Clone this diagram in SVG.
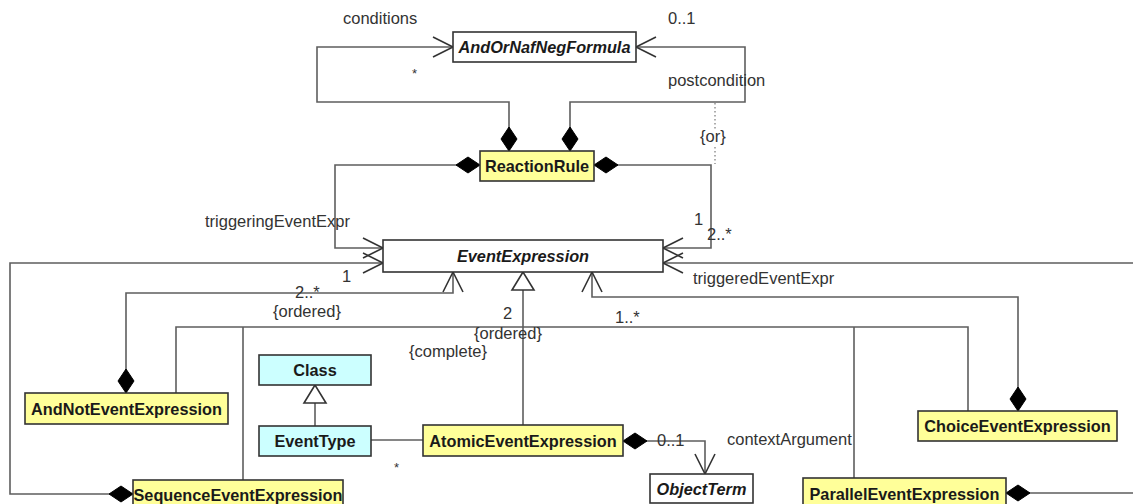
<svg xmlns="http://www.w3.org/2000/svg" width="1133" height="504" viewBox="0 0 1133 504">
  <style>
    .bg { fill: #ffffff; }
    .box { stroke: #333333; stroke-width: 1.6; }
    .abstract { fill: #ffffff; }
    .concrete { fill: #ffff99; }
    .meta { fill: #ccffff; }
    .name { font-family: "Liberation Sans", Arial, sans-serif; font-size: 16.3px; font-weight: bold; fill: #1a1a1a; text-anchor: middle; }
    .italic { font-style: italic; }
    .label { font-family: "Liberation Sans", Arial, sans-serif; font-size: 16.5px; fill: #333333; }
    .conn path, .conn line { fill: none; stroke: #5e5e5e; stroke-width: 1.6; }
    .dotted { stroke-dasharray: 1.5 2.5; stroke: #999999 !important; }
  </style>
  <defs>
    <!-- filled composition diamond, placed at the owner end -->
    <marker id="diamond" markerUnits="userSpaceOnUse" markerWidth="26" markerHeight="18" viewBox="-1 -9 26 18" refX="0" refY="0" orient="auto">
      <path d="M0,0 L12,-8 L24,0 L12,8 Z" fill="#000000" stroke="#000000" stroke-width="1"/>
    </marker>
    <!-- open navigability arrow -->
    <marker id="arrow" markerUnits="userSpaceOnUse" markerWidth="24" markerHeight="24" viewBox="-22 -12 24 24" refX="0" refY="0" orient="auto">
      <path d="M-20,-10 L0,0 L-20,10" fill="none" stroke="#333333" stroke-width="1.6"/>
    </marker>
    <!-- hollow generalization triangle -->
    <marker id="gen" markerUnits="userSpaceOnUse" markerWidth="24" markerHeight="26" viewBox="-20 -13 22 26" refX="0" refY="0" orient="auto">
      <path d="M0,0 L-18,-11 L-18,11 Z" fill="#ffffff" stroke="#333333" stroke-width="1.6"/>
    </marker>
  </defs>

  <rect class="bg" x="0" y="0" width="1133" height="504"/>

  <g id="connectors" class="conn">
    <!-- ReactionRule to AndOrNafNegFormula -->
    <path d="M509,151 V102 H317 V47 H453" marker-start="url(#diamond)" marker-end="url(#arrow)"/>
    <path d="M570,151 V102 H745 V47 H636" marker-start="url(#diamond)" marker-end="url(#arrow)"/>
    <path class="dotted" d="M715,103 V129"/>
    <path class="dotted" d="M715,147 V164"/>
    <!-- ReactionRule to EventExpression -->
    <path d="M480,165 H335 V248 H383" marker-start="url(#diamond)" marker-end="url(#arrow)"/>
    <path d="M594,165 H711 V248 H663" marker-start="url(#diamond)" marker-end="url(#arrow)"/>
    <!-- Sequence and Parallel compositions -->
    <path d="M133,494 H10 V263 H383" marker-start="url(#diamond)" marker-end="url(#arrow)"/>
    <path d="M1006,493 H1145 V263 H663" marker-start="url(#diamond)" marker-end="url(#arrow)"/>
    <!-- AndNot and Choice compositions -->
    <path d="M126,393 V293 H453 V272" marker-start="url(#diamond)" marker-end="url(#arrow)"/>
    <path d="M1018,411 V297 H592 V272" marker-start="url(#diamond)" marker-end="url(#arrow)"/>
    <!-- generalization tree of EventExpression -->
    <path d="M523,425 V272" marker-end="url(#gen)"/>
    <path d="M176,393 V327 H968 V411"/>
    <path d="M243,327 V480"/>
    <path d="M854,327 V478"/>
    <!-- EventType generalizes Class -->
    <path d="M315,426 V385" marker-end="url(#gen)"/>
    <!-- EventType to AtomicEventExpression -->
    <path d="M371,440 H423"/>
    <!-- AtomicEventExpression to ObjectTerm -->
    <path d="M623,441 H705 V474" marker-start="url(#diamond)" marker-end="url(#arrow)"/>
  </g>

  <g id="andOrNafNegFormula">
    <rect class="box abstract" x="453" y="32" width="183" height="30"/>
    <text class="name italic" x="544.5" y="53">AndOrNafNegFormula</text>
  </g>
  <g id="reactionRule">
    <rect class="box concrete" x="480" y="151" width="114" height="30"/>
    <text class="name" x="537" y="172">ReactionRule</text>
  </g>
  <g id="eventExpression">
    <rect class="box abstract" x="383" y="240" width="280" height="32"/>
    <text class="name italic" x="523" y="262">EventExpression</text>
  </g>
  <g id="andNotEventExpression">
    <rect class="box concrete" x="25" y="393" width="203" height="31"/>
    <text class="name" x="126.5" y="415">AndNotEventExpression</text>
  </g>
  <g id="class">
    <rect class="box meta" x="259" y="355" width="112" height="30"/>
    <text class="name" x="315" y="376">Class</text>
  </g>
  <g id="eventType">
    <rect class="box meta" x="259" y="426" width="112" height="30"/>
    <text class="name" x="315" y="447">EventType</text>
  </g>
  <g id="atomicEventExpression">
    <rect class="box concrete" x="423" y="425" width="200" height="31"/>
    <text class="name" x="523" y="447">AtomicEventExpression</text>
  </g>
  <g id="objectTerm">
    <rect class="box abstract" x="650" y="474" width="103" height="29"/>
    <text class="name italic" x="701.5" y="495">ObjectTerm</text>
  </g>
  <g id="sequenceEventExpression">
    <rect class="box concrete" x="133" y="480" width="210" height="32"/>
    <text class="name" x="238" y="501">SequenceEventExpression</text>
  </g>
  <g id="choiceEventExpression">
    <rect class="box concrete" x="918" y="411" width="199" height="30"/>
    <text class="name" x="1017.5" y="432">ChoiceEventExpression</text>
  </g>
  <g id="parallelEventExpression">
    <rect class="box concrete" x="803" y="478" width="203" height="32"/>
    <text class="name" x="904.5" y="500">ParallelEventExpression</text>
  </g>

  <g id="labels" class="label">
    <text x="343" y="24">conditions</text>
    <text x="668" y="24">0..1</text>
    <text x="412" y="78" style="font-size:13px">*</text>
    <text x="668" y="86">postcondition</text>
    <text x="700" y="142">{or}</text>
    <text x="205" y="227">triggeringEventExpr</text>
    <text x="694" y="225">1</text>
    <text x="707" y="240">2..*</text>
    <text x="342" y="282">1</text>
    <text x="295" y="298">2..*</text>
    <text x="273" y="317">{ordered}</text>
    <text x="693" y="284">triggeredEventExpr</text>
    <text x="503" y="319">2</text>
    <text x="615" y="323">1..*</text>
    <text x="474" y="339">{ordered}</text>
    <text x="409" y="357">{complete}</text>
    <text x="394" y="472" style="font-size:13px">*</text>
    <text x="657" y="446">0..1</text>
    <text x="727" y="445">contextArgument</text>
  </g>
</svg>
